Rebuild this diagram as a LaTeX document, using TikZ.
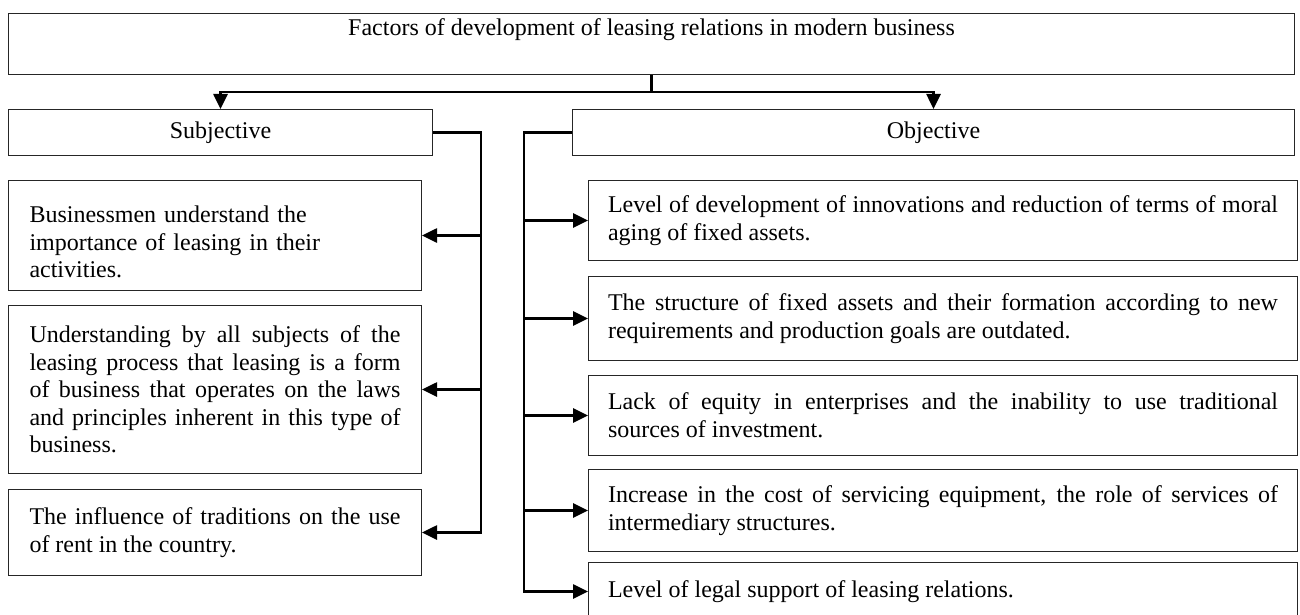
\documentclass[tikz,border=0pt]{standalone}
\usepackage{fontspec}
\setmainfont{Liberation Serif}
\usetikzlibrary{arrows.meta}

\tikzset{
  frame/.style={draw=black!85,line width=0.5pt,inner ysep=0pt,anchor=north west,font=\fontsize{12}{13.8}\selectfont},
  lbox/.style={frame,text width=185.5pt,inner xsep=10.5pt,minimum width=206.5pt,align=justify},
  rbox/.style={frame,text width=335pt,inner xsep=9.75pt,minimum width=354.5pt,align=justify},
  conn/.style={line width=1.3pt},
  arr/.style={conn,-{Triangle[length=7.5pt,width=7pt]}}
}

\begin{document}
\begin{tikzpicture}[x=0.5pt,y=-0.5pt]
\useasboundingbox (0,0) rectangle (1300,615);

\node[frame,minimum width=643pt,minimum height=30.5pt,text height=8.2pt,text depth=16.7pt] (main) at (8,13) {Factors of development of leasing relations in modern business};

\node[frame,minimum width=212pt,minimum height=23pt] (subj) at (8,109) {Subjective};
\node[frame,minimum width=361pt,minimum height=23pt] (obj) at (572,109) {Objective};

% subjective side
\node[lbox,align=left,minimum height=55pt] (subj 1) at (8,180) {\rule{0pt}{15pt}Businessmen understand the\\importance of leasing in their\\activities.};
\node[lbox,minimum height=84pt] (subj 2) at (8,305) {Understanding by all subjects of the\linebreak leasing process that leasing is a form\linebreak of business that operates on the laws\linebreak and principles inherent in this type of\linebreak business.};
\node[lbox,minimum height=43pt] (subj 3) at (8,489) {The influence of traditions on the use\linebreak of rent in the country.};

% objective side
\node[rbox,minimum height=40pt] (obj 1) at (588,180) {Level of development of innovations and reduction of terms of moral\linebreak aging of fixed assets.};
\node[rbox,minimum height=42pt] (obj 2) at (588,276) {The structure of fixed assets and their formation according to new\linebreak requirements and production goals are outdated.};
\node[rbox,minimum height=40pt] (obj 3) at (588,375) {Lack of equity in enterprises and the inability to use traditional\linebreak sources of investment.};
\node[rbox,minimum height=41pt] (obj 4) at (588,469) {Increase in the cost of servicing equipment, the role of services of\linebreak intermediary structures.};
\node[rbox,minimum height=29pt] (obj 5) at (588,562) {Level of legal support of leasing relations.};

\draw[arr] (main.south) -- ++(0,17) coordinate (split) -| (subj.north);
\draw[arr] (split) -| (obj.north);

\draw[arr] (subj.east) -- ++(48,0) coordinate (sbus) |- (subj 3.east);
\draw[arr] (sbus |- subj 1.east) -- (subj 1.east);
\draw[arr] (sbus |- subj 2.east) -- (subj 2.east);

\draw[arr] (obj.west) -- ++(-48,0) coordinate (obus) |- (obj 5.west);
\draw[arr] (obus |- obj 1.west) -- (obj 1.west);
\draw[arr] (obus |- obj 2.west) -- (obj 2.west);
\draw[arr] (obus |- obj 3.west) -- (obj 3.west);
\draw[arr] (obus |- obj 4.west) -- (obj 4.west);
\end{tikzpicture}
\end{document}
